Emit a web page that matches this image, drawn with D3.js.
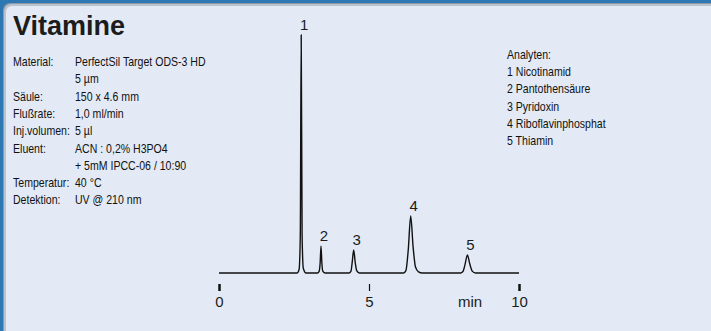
<!DOCTYPE html>
<html>
<head>
<meta charset="utf-8">
<script src="https://cdn.jsdelivr.net/npm/d3@7"></script>
<style>
  body { margin: 0; background: #e3eaf5; }
  svg { display: block; }
  .info { font-family: "Liberation Sans Narrow", "Arial Narrow", "Liberation Sans", sans-serif; font-size: 12px; fill: #111; }
  .lbl { font-family: "Liberation Sans", Arial, sans-serif; font-size: 15px; fill: #1c1c1c; }
</style>
</head>
<body>
<svg width="711" height="331"></svg>
<script>
// trace points (time in min, signal in % of peak 1)
var traceTime = [0, 2.60, 2.67, 2.71, 2.74, 2.77, 2.81, 2.90,
  3.28, 3.34, 3.37, 3.40, 3.43, 3.46, 3.54,
  4.33, 4.40, 4.44, 4.49, 4.54, 4.59, 4.68,
  6.15, 6.23, 6.31, 6.39, 6.47, 6.55, 6.65, 6.78,
  8.05, 8.13, 8.20, 8.28, 8.36, 8.44, 8.55, 10];
var traceSignal = [0, 0, 1.5, 16, 100, 16, 2, 0,
  0, 0.8, 4, 11.3, 4, 0.8, 0,
  0, 0.8, 4.5, 9.7, 4.5, 1, 0,
  0, 1, 10, 24, 11, 2.5, 0.5, 0,
  0, 0.6, 3.5, 7.6, 3.8, 0.8, 0, 0];

// peak labels
var peakNames = ["1", "2", "3", "4", "5"];
var peakTime = [2.74, 3.40, 4.49, 6.39, 8.28];
var peakHeight = [100, 11.3, 9.7, 24, 7.6];

var xTicks = [0, 5, 10];

var infoKeys = ["Material:", "", "Säule:", "Flußrate:", "Inj.volumen:", "Eluent:", "", "Temperatur:", "Detektion:"];
var infoValues = ["PerfectSil Target ODS-3 HD", "5 µm", "150 x 4.6 mm", "1,0 ml/min", "5 µl",
  "ACN : 0,2% H3PO4", "+ 5mM IPCC-06 / 10:90", "40 °C", "UV @ 210 nm"];
var analyten = ["Analyten:", "1 Nicotinamid", "2 Pantothensäure", "3 Pyridoxin", "4 Riboflavinphosphat", "5 Thiamin"];

var svg = d3.select("svg");

// frame: blue band top and left, with a grey shadow edge
svg.append("rect").attr("width", 711).attr("height", 331).attr("fill", "#2d78b3");
svg.append("rect").attr("x", 3).attr("y", 3).attr("width", 760).attr("height", 380).attr("rx", 7).attr("fill", "#8e99a6");
svg.append("rect").attr("x", 4).attr("y", 4).attr("width", 760).attr("height", 380).attr("rx", 7).attr("fill", "#b9c3cf");
svg.append("rect").attr("x", 6).attr("y", 6).attr("width", 760).attr("height", 380).attr("rx", 6).attr("fill", "#e3eaf5");

svg.append("text")
  .attr("x", 13).attr("y", 35)
  .style("font-family", "'Liberation Sans', Arial, sans-serif")
  .style("font-weight", "bold").style("font-size", "27px")
  .attr("fill", "#1c1c1c")
  .text("Vitamine");

// condensed look: squeeze the text horizontally
function narrow(px, py) { return "translate(" + px + "," + py + ") scale(0.88,1)"; }

var info = svg.append("g").attr("class", "info");
infoKeys.forEach(function(k, i) {
  var yy = 66 + i * 17.3;
  info.append("text").attr("transform", narrow(13, yy)).text(k);
  info.append("text").attr("transform", narrow(75, yy)).text(infoValues[i]);
});

svg.append("g").attr("class", "info")
  .selectAll("text").data(analyten).enter().append("text")
  .attr("transform", function(d, i) { return narrow(507, 59 + i * 17.2); })
  .text(function(d) { return d; });

// chromatogram
var x = d3.scaleLinear().domain([0, 10]).range([219, 519]);
var y = d3.scaleLinear().domain([0, 100]).range([273, 35]);

var line = d3.line()
  .x(function(d) { return x(d[0]); })
  .y(function(d) { return y(d[1]); })
  .curve(d3.curveMonotoneX);

svg.append("path")
  .datum(traceTime.map(function(t, i) { return [t, traceSignal[i]]; }))
  .attr("d", line)
  .attr("fill", "none")
  .attr("stroke", "#111")
  .attr("stroke-width", 1.4);

svg.append("g").attr("class", "lbl")
  .selectAll("text").data(peakNames).enter().append("text")
  .attr("x", function(d, i) { return x(peakTime[i]) + 3; })
  .attr("y", function(d, i) { return y(peakHeight[i]) - 5; })
  .attr("text-anchor", "middle")
  .text(function(d) { return d; });

// time axis
var axis = d3.axisBottom(x).tickValues(xTicks).tickSize(7).tickPadding(5);
var gx = svg.append("g").attr("transform", "translate(0,284)").call(axis);
gx.select(".domain").remove();
gx.selectAll(".tick line")
  .attr("stroke", "#111")
  .attr("stroke-width", function(d) { return d === 5 ? 1.2 : 2.5; });
gx.selectAll(".tick text")
  .attr("class", "lbl")
  .attr("fill", "#1c1c1c")
  .style("font-size", "15px");

svg.append("text").attr("class", "lbl")
  .attr("x", x(8.37)).attr("y", 307)
  .attr("text-anchor", "middle")
  .text("min");
</script>
</body>
</html>
